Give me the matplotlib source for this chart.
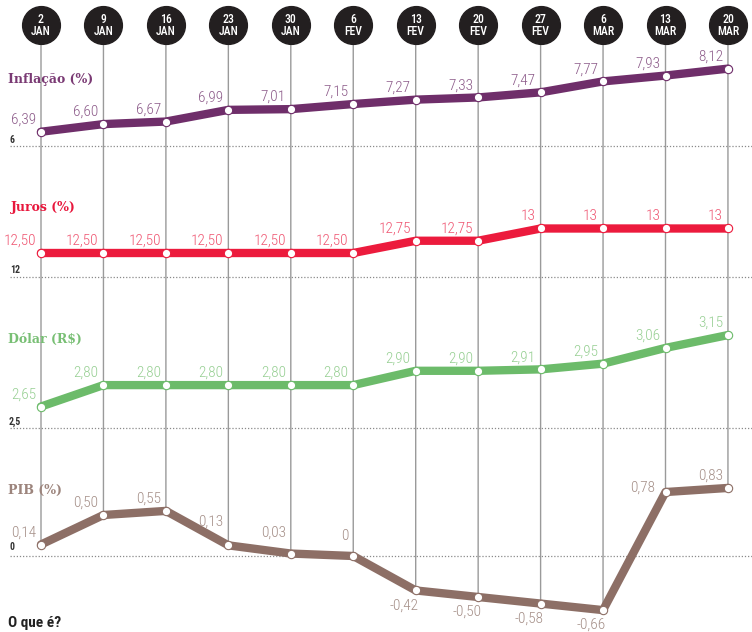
import matplotlib
matplotlib.use("Agg")
import matplotlib.pyplot as plt
from matplotlib.patches import ConnectionPatch
import logging
logging.getLogger("matplotlib.font_manager").setLevel(logging.ERROR)

# ---------------- data ----------------
dates = ["2\nJAN", "9\nJAN", "16\nJAN", "23\nJAN", "30\nJAN", "6\nFEV",
         "13\nFEV", "20\nFEV", "27\nFEV", "6\nMAR", "13\nMAR", "20\nMAR"]
inflacao = [6.39, 6.60, 6.67, 6.99, 7.01, 7.15, 7.27, 7.33, 7.47, 7.77, 7.93, 8.12]
juros = [12.50, 12.50, 12.50, 12.50, 12.50, 12.50, 12.75, 12.75, 13, 13, 13, 13]
dolar = [2.65, 2.80, 2.80, 2.80, 2.80, 2.80, 2.90, 2.90, 2.91, 2.95, 3.06, 3.15]
pib = [0.14, 0.50, 0.55, 0.13, 0.03, 0.0, -0.42, -0.50, -0.58, -0.66, 0.78, 0.83]
titles = ["Inflação (%)", "Juros (%)", "Dólar (R$)", "PIB (%)"]
ref_values = [6, 12, 2.5, 0]
ref_labels = ["6", "12", "2,5", "0"]

# ---------------- layout / style ----------------
W, H = 752, 632
X0, DX = 41, 62.45                   # pixel of first column, spacing
base_px = [146, 277.5, 428, 556]     # pixel row of reference line
ppu = [36.5, 49, 143, 82]            # pixels per unit
line_colors = ["#6f2e6a", "#ec1b3d", "#6cbb6a", "#8d6f66"]
label_colors = ["#8c5a89", "#ef5470", "#96cf92", "#a48e87"]
title_colors = ["#7a3a74", "#e8173c", "#78bf74", "#9c847c"]
title_px = [(8, 80), (11, 207), (8, 339), (8, 490)]
ref_px = [(10, 140), (10, 270), (9, 422), (9, 547)]
# extra vertical lift (pixels) of a few PIB labels, to clear the line
pib_lift = {3: 12, 4: 9, 5: 8, 10: -8}
pib_shift = {10: -5}

narrow = ["Roboto Condensed", "Liberation Sans Narrow", "Liberation Sans"]
slab = ["DejaVu Serif"]

fig = plt.figure(figsize=(W / 100, H / 100), dpi=100)
xlim = (-X0 / DX, (W - X0) / DX)

# header/overlay axes in pixel y
ax0 = fig.add_axes([0, 0, 1, 1])
ax0.set_xlim(*xlim)
ax0.set_ylim(H, 0)
ax0.axis("off")

n = len(dates)
xs = list(range(n))

panels = []
series = [inflacao, juros, dolar, pib]
for k in range(4):
    ax = fig.add_axes([0, 0, 1, 1])
    ax.patch.set_alpha(0)
    ax.set_xlim(*xlim)
    ax.set_ylim(ref_values[k] - (H - base_px[k]) / ppu[k],
                ref_values[k] + base_px[k] / ppu[k])
    ax.axis("off")
    panels.append(ax)

# vertical guide lines from header circles down to PIB points
for i in xs:
    con = ConnectionPatch(xyA=(i, 44), coordsA=ax0.transData,
                          xyB=(i, pib[i]), coordsB=panels[3].transData,
                          color="#9a9a9a", lw=1.0, zorder=1)
    ax0.add_artist(con)

# header circles
ax0.scatter(xs, [25] * n, s=740, color="#231f20", zorder=3)
for i, d in enumerate(dates):
    ax0.text(i, 25.5, d, color="white", ha="center", va="center",
             fontsize=8.5, fontweight="medium", family=narrow, linespacing=0.9,
             zorder=4)

def fmt(v):
    if v == int(v):
        return str(int(v))
    return f"{v:.2f}".replace(".", ",")

for k, ax in enumerate(panels):
    vals = series[k]
    # dotted reference line
    ax.plot([(10 - X0) / DX, xlim[1]], [ref_values[k]] * 2, ls=(0, (1, 1.5)),
            color="#8a8a8a", lw=0.9, zorder=1)
    ax.plot(xs, vals, color=line_colors[k], lw=6, solid_joinstyle="round",
            solid_capstyle="round", zorder=2)
    ax.plot(xs, vals, ls="none", marker="o", ms=6, mfc="white",
            mec=line_colors[k], mew=0.8, zorder=3)
    for i, v in enumerate(vals):
        lift = pib_lift.get(i, 0) if k == 3 else 0
        shift = pib_shift.get(i, 0) if k == 3 else 0
        if v < 0:
            ax.annotate(fmt(v), (i, v), xytext=(3, -8), textcoords="offset pixels",
                        ha="right", va="top", color=label_colors[k],
                        fontsize=11, fontweight="light", family=narrow)
        else:
            ax.annotate(fmt(v), (i, v), xytext=(-5 + shift, 5 + lift),
                        textcoords="offset pixels",
                        ha="right", va="bottom", color=label_colors[k],
                        fontsize=11, fontweight="light", family=narrow)
    tx, ty = title_px[k]
    fig.text(tx / W, 1 - ty / H, titles[k], color=title_colors[k], fontsize=9,
             fontweight="bold", family=slab, ha="left", va="center")
    rx, ry = ref_px[k]
    fig.text(rx / W, 1 - ry / H, ref_labels[k], color="#333333", fontsize=7,
             fontweight="bold", family=narrow, ha="left", va="center")

fig.text(8 / W, 1 - 616 / H, "O que é?", color="#222222", fontsize=11,
         fontweight="bold", family=narrow, ha="left", va="top")

fig.savefig("out.png", dpi=100)
